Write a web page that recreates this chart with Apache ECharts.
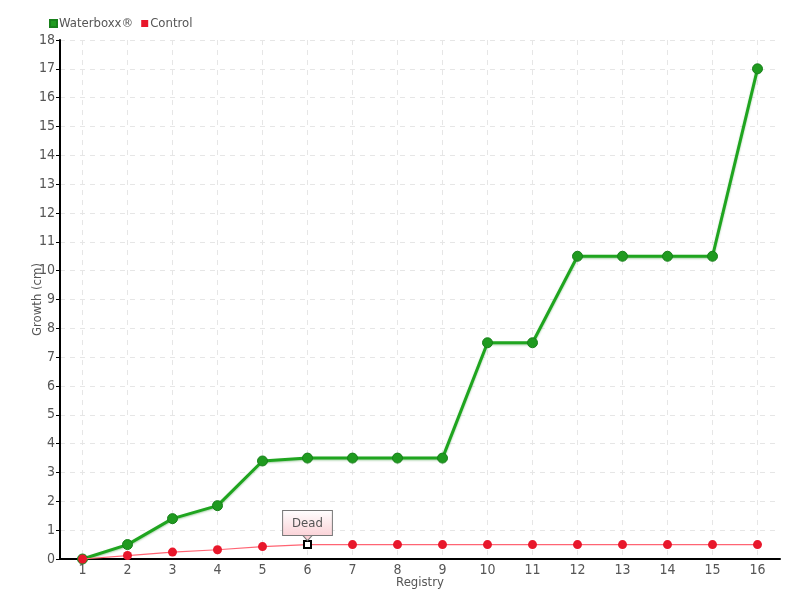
<!DOCTYPE html>
<html><head><meta charset="utf-8">
<script src="https://cdn.jsdelivr.net/npm/echarts@6/dist/echarts.min.js"></script>
<style>html,body{margin:0;padding:0;background:#fff}#c{width:800px;height:600px}</style>
</head><body><div id="c"></div>
<script>
var categories = ['1','2','3','4','5','6','7','8','9','10','11','12','13','14','15','16'];
var waterboxx = [0, 0.5, 1.4, 1.85, 3.4, 3.5, 3.5, 3.5, 3.5, 7.5, 7.5, 10.5, 10.5, 10.5, 10.5, 17];
var control = [0, 0.12, 0.24, 0.32, 0.43, 0.5, 0.5, 0.5, 0.5, 0.5, 0.5, 0.5, 0.5, 0.5, 0.5, 0.5];
var deadIndex = 5;
var deadLabel = 'Dead';

var font = '"DejaVu Sans Condensed", "Liberation Sans Narrow", sans-serif';
var numFont = '"Liberation Sans Narrow", "DejaVu Sans Condensed", sans-serif';
var chart = echarts.init(document.getElementById('c'));
var controlData = control.map(function (v, i) {
  if (i !== deadIndex) return v;
  return {
    value: v,
    symbol: 'rect', symbolSize: 7,
    itemStyle: { color: '#fff', borderColor: '#000', borderWidth: 2 },
    label: {
      show: true, position: 'top', distance: 5, formatter: deadLabel,
      fontFamily: font, fontSize: 13, color: '#555',
      padding: [6, 9, 5, 9],
      borderColor: '#777', borderWidth: 1,
      backgroundColor: new echarts.graphic.LinearGradient(0, 0, 0, 1, [
        { offset: 0, color: '#ffffff' }, { offset: 1, color: '#fbd2d7' }])
    }
  };
});
chart.setOption({
  animation: false,
  legend: {
    left: 44, top: 12, itemWidth: 7, itemHeight: 7, itemGap: 8,
    icon: 'rect',
    textStyle: { fontFamily: font, fontSize: 13, color: '#555', padding: [0, 0, 0, -3] },
    data: ['Waterboxx®', 'Control']
  },
  grid: { left: 60, right: 20, top: 40, bottom: 41 },
  xAxis: {
    type: 'category', data: categories, boundaryGap: true,
    name: 'Registry', nameLocation: 'middle', nameGap: 17, nameMoveOverlap: false,
    nameTextStyle: { fontFamily: font, fontSize: 13, color: '#555' },
    axisLine: { lineStyle: { color: '#000', width: 2 } },
    axisTick: { alignWithLabel: true, length: 4, lineStyle: { color: '#000' } },
    axisLabel: { fontFamily: numFont, fontSize: 14, color: '#555', margin: 4 },
    splitLine: { show: true, alignWithLabel: true, interval: 0, lineStyle: { color: '#e6e6e6', type: [5, 5], width: 1 } }
  },
  yAxis: {
    type: 'value', min: 0, max: 18, interval: 1,
    name: 'Growth (cm)', nameLocation: 'middle', nameGap: 16, nameRotate: 90, nameMoveOverlap: false,
    nameTextStyle: { fontFamily: font, fontSize: 13, color: '#555' },
    axisLine: { show: true, lineStyle: { color: '#000', width: 2 } },
    axisTick: { show: true, length: 4, lineStyle: { color: '#000' } },
    axisLabel: { fontFamily: numFont, fontSize: 14, color: '#555', margin: 5 },
    splitLine: { show: true, lineStyle: { color: '#e6e6e6', type: [5, 5], width: 1 } }
  },
  series: [
    {
      name: 'Waterboxx®', type: 'line', data: waterboxx, z: 3,
      symbol: 'circle', symbolSize: 10,
      itemStyle: { color: '#1f9a1f', borderColor: '#17801a', borderWidth: 1 },
      lineStyle: { color: '#1fa51f', width: 3, shadowColor: 'rgba(0,120,0,0.35)', shadowBlur: 2, shadowOffsetY: 1 }
    },
    {
      name: 'Control', type: 'line', data: controlData, z: 4,
      symbol: 'circle', symbolSize: 9,
      itemStyle: { color: '#e8172b' },
      lineStyle: { color: '#ff6473', width: 1.2 },
      markPoint: {
        silent: true,
        symbol: 'path://M0,0 L12,0 L6,7 Z',
        symbolSize: [9, 5],
        symbolOffset: [0, -6.5],
        itemStyle: { color: '#fbd2d7', borderColor: '#777', borderWidth: 1 },
        label: { show: false },
        data: [{ coord: [deadIndex, control[deadIndex]] }]
      }
    }
  ]
});
</script></body></html>
